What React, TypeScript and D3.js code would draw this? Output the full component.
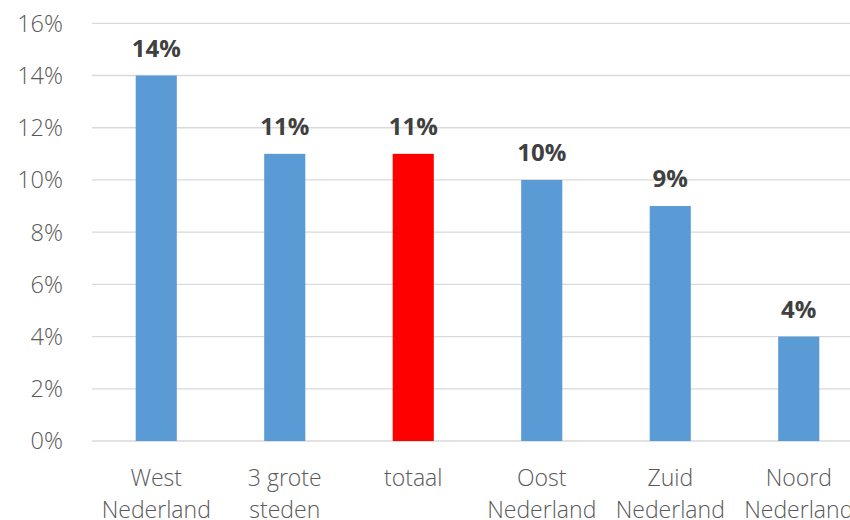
import React from "react";
import * as d3 from "d3";

const categories: string[][] = [
  ["West", "Nederland"],
  ["3 grote", "steden"],
  ["totaal"],
  ["Oost", "Nederland"],
  ["Zuid", "Nederland"],
  ["Noord", "Nederland"],
];
const values: number[] = [14, 11, 11, 10, 9, 4];
const barColors: string[] = ["#5B9BD5", "#5B9BD5", "#FF0000", "#5B9BD5", "#5B9BD5", "#5B9BD5"];
const yTicks: number[] = [0, 2, 4, 6, 8, 10, 12, 14, 16];

const W = 850;
const H = 520;
const FONT = "'Open Sans', 'Liberation Sans', sans-serif";

export default function App() {
  const keys = categories.map((c) => c.join(" "));
  const x = d3
    .scaleBand<string>()
    .domain(keys)
    .range([92, 92 + 6 * 128.5])
    .paddingInner(0.68)
    .paddingOuter(0.34);
  const y = d3.scaleLinear().domain([0, 16]).range([441, 23.3]);
  const x0 = 92;
  const x1 = W;

  return (
    <svg
      width={W}
      height={H}
      style={{ position: "fixed", left: 0, top: 0, background: "#fff" }}
      fontFamily={FONT}
    >
      {yTicks.map((t) => (
        <g key={t}>
          <line x1={x0} x2={x1} y1={y(t)} y2={y(t)} stroke="#d9d9d9" strokeWidth={1.3} />
          <text
            x={63}
            y={y(t)}
            dy="0.36em"
            textAnchor="end"
            fontSize={23.5}
            fontWeight={300}
            fill="#595959"
          >
            {t}%
          </text>
        </g>
      ))}
      {keys.map((k, i) => (
        <g key={k}>
          <rect
            x={x(k)}
            y={y(values[i])}
            width={x.bandwidth()}
            height={y(0) - y(values[i])}
            fill={barColors[i]}
          />
          <text
            x={(x(k) as number) + x.bandwidth() / 2}
            y={y(values[i]) - 19}
            textAnchor="middle"
            fontSize={24}
            fontWeight="bold"
            fill="#404040"
          >
            {values[i]}%
          </text>
          {categories[i].map((line, j) => (
            <text
              key={j}
              x={(x(k) as number) + x.bandwidth() / 2}
              y={486 + j * 32}
              textAnchor="middle"
              fontSize={23}
              fontWeight={300}
              fill="#595959"
            >
              {line}
            </text>
          ))}
        </g>
      ))}
    </svg>
  );
}
